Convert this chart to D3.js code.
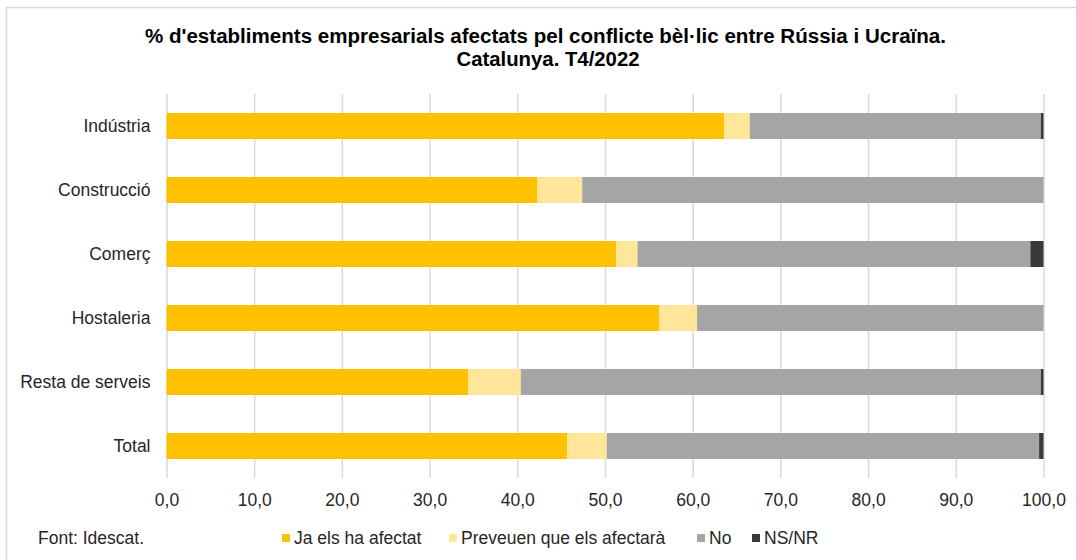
<!DOCTYPE html>
<html>
<head>
<meta charset="utf-8">
<script src="https://cdn.jsdelivr.net/npm/d3@7/dist/d3.min.js"></script>
<style>
  body { margin: 0; background: #fff; }
  svg { display: block; font-family: "Liberation Sans", Arial, sans-serif; }
</style>
</head>
<body>
<div id="viz"></div>
<script>
const categories = ["Indústria", "Construcció", "Comerç", "Hostaleria", "Resta de serveis", "Total"];
const seriesNames = ["Ja els ha afectat", "Preveuen que els afectarà", "No", "NS/NR"];
const jaAfectat = [63.6, 42.3, 51.3, 56.2, 34.4, 45.7];
const preveuen = [2.9, 5.1, 2.4, 4.3, 6.0, 4.5];
const no = [33.2, 52.6, 44.8, 39.5, 59.3, 49.3];
const nsnr = [0.3, 0.0, 1.5, 0.0, 0.3, 0.5];
const xTicks = [0, 10, 20, 30, 40, 50, 60, 70, 80, 90, 100];

const width = 1076, height = 560;
const colors = ["#FFC000", "#FFE699", "#A5A5A5", "#3B3838"];
const labelSize = 17.5;

const svg = d3.select("#viz").append("svg")
  .attr("width", width)
  .attr("height", height);

// frame (only top/left edges visible in the crop)
svg.append("rect")
  .attr("x", 6.5).attr("y", 7.5)
  .attr("width", 1100).attr("height", 600)
  .attr("fill", "none")
  .attr("stroke", "#d9d9d9")
  .attr("stroke-width", 1.5);

// title
const title = svg.append("g")
  .attr("font-weight", "bold")
  .attr("font-size", 20)
  .attr("fill", "#000")
  .attr("text-anchor", "middle");
title.append("text")
  .attr("x", 545.5).attr("y", 43)
  .attr("textLength", 801).attr("lengthAdjust", "spacingAndGlyphs")
  .text("% d'establiments empresarials afectats pel conflicte bèl·lic entre Rússia i Ucraïna.");
title.append("text")
  .attr("x", 548).attr("y", 66)
  .attr("textLength", 183).attr("lengthAdjust", "spacingAndGlyphs")
  .text("Catalunya. T4/2022");

const x = d3.scaleLinear().domain([0, 100]).range([166.5, 1043.5]);
const y = d3.scaleBand().domain(categories).range([94, 478])
  .paddingInner(0.594).paddingOuter(0.297);

// gridlines + tick labels
const xAxis = svg.append("g")
  .attr("transform", "translate(0,478)")
  .call(d3.axisBottom(x).tickValues(xTicks)
    .tickSize(-384).tickPadding(16)
    .tickFormat(d => d3.format(".1f")(d).replace(".", ",")));
xAxis.select(".domain").remove();
xAxis.selectAll(".tick line").attr("stroke", "#d9d9d9").attr("stroke-width", 1.5);
xAxis.selectAll(".tick text")
  .attr("font-size", labelSize).attr("fill", "#262626")
  .attr("font-family", "'Liberation Sans', Arial, sans-serif");

// stacked bars
const seriesValues = [jaAfectat, preveuen, no, nsnr];
const rows = categories.map((c, i) => {
  const row = { cat: c };
  seriesNames.forEach((s, k) => row[s] = seriesValues[k][i]);
  return row;
});
const stack = d3.stack().keys(seriesNames)(rows);

svg.append("g").selectAll("g")
  .data(stack)
  .join("g")
  .attr("fill", (d, i) => colors[i])
  .selectAll("rect")
  .data(d => d)
  .join("rect")
  .attr("x", d => x(d[0]))
  .attr("y", d => y(d.data.cat))
  .attr("width", d => x(d[1]) - x(d[0]))
  .attr("height", y.bandwidth());

// category labels
const yAxis = svg.append("g")
  .attr("transform", "translate(166.5,0)")
  .call(d3.axisLeft(y).tickSize(0).tickPadding(16));
yAxis.select(".domain").remove();
yAxis.selectAll(".tick text")
  .attr("font-size", labelSize).attr("fill", "#262626")
  .attr("font-family", "'Liberation Sans', Arial, sans-serif");

// source + legend
svg.append("text")
  .attr("x", 38).attr("y", 544)
  .attr("font-size", labelSize).attr("fill", "#262626")
  .text("Font: Idescat.");

const legendX = [282, 449, 697, 752];
const legend = svg.append("g").selectAll("g")
  .data(seriesNames)
  .join("g")
  .attr("transform", (d, i) => `translate(${legendX[i]},534)`);
legend.append("rect")
  .attr("width", 8).attr("height", 8)
  .attr("fill", (d, i) => colors[i]);
legend.append("text")
  .attr("x", 12).attr("y", 10)
  .attr("font-size", labelSize).attr("fill", "#262626")
  .text(d => d);
</script>
</body>
</html>
